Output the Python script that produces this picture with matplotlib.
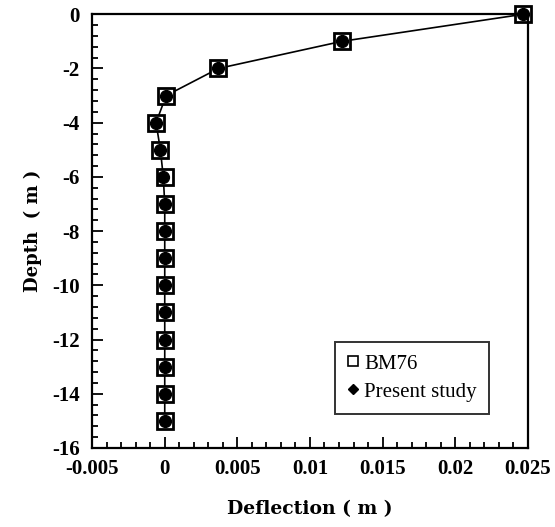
import matplotlib
matplotlib.use("Agg")
import matplotlib.pyplot as plt
from matplotlib.ticker import MultipleLocator

plt.rcParams['font.family'] = ['Liberation Serif', 'DejaVu Serif']
plt.rcParams['axes.unicode_minus'] = False

depth = [0, -1, -2, -3, -4, -5, -6, -7, -8, -9, -10, -11, -12, -13, -14, -15]
bm76 = [0.0247, 0.0122, 0.0037, 0.0001, -0.0006, -0.0003, 0.0, 0.0,
        0.0, 0.0, 0.0, 0.0, 0.0, 0.0, 0.0, 0.0]
present = [0.0247, 0.0122, 0.0037, 0.0001, -0.0006, -0.0003, -0.0001, 0.0,
           0.0, 0.0, 0.0, 0.0, 0.0, 0.0, 0.0, 0.0]
xticks = [-0.005, 0, 0.005, 0.01, 0.015, 0.02, 0.025]
xticklabels = ['-0.005', '0', '0.005', '0.01', '0.015', '0.02', '0.025']

fig = plt.figure(figsize=(5.55, 5.27), dpi=100)
ax = fig.add_axes([0.166, 0.15, 0.785, 0.823])

ax.plot(present, depth, color='black', lw=1.2, zorder=1, clip_on=False)
ax.plot(bm76, depth, ls='none', marker='s', ms=11.5, mfc='white',
        mec='black', mew=2.0, zorder=2, clip_on=False)
ax.plot(present, depth, ls='none', marker='o', ms=8.5, mfc='black',
        mec='black', zorder=3, clip_on=False)

ax.set_xlim(-0.005, 0.025)
ax.set_ylim(-16, 0)
ax.set_xticks(xticks)
ax.set_xticklabels(xticklabels)
ax.xaxis.set_minor_locator(MultipleLocator(0.001))
ax.yaxis.set_major_locator(MultipleLocator(2))
ax.yaxis.set_minor_locator(MultipleLocator(0.4))

ax.tick_params(which='both', direction='in', top=False, right=False, width=1.3)
ax.tick_params(which='major', length=8, labelsize=15)
ax.tick_params(which='minor', length=4)
ax.tick_params(axis='y', pad=9)
ax.tick_params(axis='x', pad=8)
for lab in ax.get_xticklabels() + ax.get_yticklabels():
    lab.set_fontweight('bold')
for s in ax.spines.values():
    s.set_linewidth(1.6)

ax.set_xlabel('Deflection ( m )', fontsize=13.5, fontweight='bold',
              family='DejaVu Serif', labelpad=15)
ax.set_ylabel('Depth  ( m )', fontsize=13, fontweight='bold',
              family='DejaVu Serif', labelpad=7)

# legend markers drawn smaller than the data markers
h1, = ax.plot([], [], ls='none', marker='s', ms=7, mfc='white', mec='black', mew=1.2)
h2, = ax.plot([], [], ls='none', marker='D', ms=5.5, mfc='black', mec='black')
leg = ax.legend([h1, h2], ['BM76', 'Present study'], loc='lower left',
                bbox_to_anchor=(0.557, 0.078), fontsize=15, frameon=True,
                fancybox=False, handlelength=0.5, handletextpad=0.3,
                borderpad=0.6, labelspacing=0.4, borderaxespad=0)
leg.get_frame().set_edgecolor('black')
leg.get_frame().set_linewidth(1.4)

fig.savefig('out.png', dpi=100)
